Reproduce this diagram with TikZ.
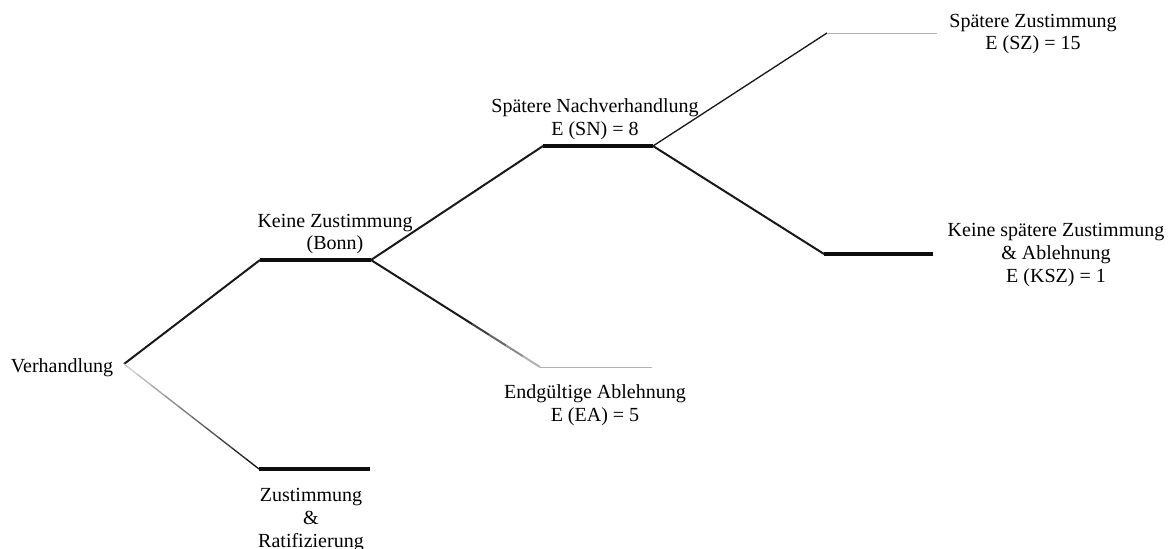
\documentclass[tikz,border=0pt]{standalone}
\usepackage{fontspec}
\setmainfont{Liberation Serif}
\usetikzlibrary{calc}

\begin{document}
\begin{tikzpicture}[
        x=0.75pt, y=-0.75pt,
        label/.style={align=center, inner sep=0pt, font=\fontsize{15}{16.9}\selectfont},
        stem/.style={line width=2.6pt, black!95},
        branch/.style={line width=1.5pt, black!90},
        twig/.style={line width=1pt, black!90},
        faint/.style={line width=0.7pt, black!30}
    ]
        \useasboundingbox (0,0) rectangle (1171,549);

        % branch points
        \coordinate (root) at (124,364);
        \coordinate (kz1) at (260,260);
        \coordinate (kz2) at (371,260);
        \coordinate (zr1) at (259,469);
        \coordinate (zr2) at (370,469);
        \coordinate (sn1) at (543,146);
        \coordinate (sn2) at (653,146);
        \coordinate (ea1) at (540,367);
        \coordinate (ea2) at (652,367);
        \coordinate (sz1) at (827,33);
        \coordinate (sz2) at (937,33);
        \coordinate (ksz1) at (824,254);
        \coordinate (ksz2) at (933,254);

        % labels
        \node[label] (verh) at (62,368) {Verhandlung};
        \node[label] (keine) at (335,234) {Keine Zustimmung\\(Bonn)};
        \node[label] (ratif) at (311,520) {Zustimmung\\\&\\Ratifizierung};
        \node[label] (nachv) at (595,119) {Spätere Nachverhandlung\\E (SN) = 8};
        \node[label] (ablehn) at (595,405) {Endgültige Ablehnung\\E (EA) = 5};
        \node[label] (spaet) at (1033,34) {Spätere Zustimmung\\E (SZ) = 15};
        \node[label] (kspaet) at (1056,255) {Keine spätere Zustimmung\\\& Ablehnung\\E (KSZ) = 1};

        % tree
        \draw[branch] (root) -- (kz1);
        \draw[stem] (kz1) -- (kz2);
        \foreach \i in {0,...,9} {
            \pgfmathsetmacro{\nxt}{(\i+1)/10}
            \pgfmathtruncatemacro{\shadeval}{20+8*\i}
            \draw[twig, black!\shadeval] ($(root)!\i/10!(zr1)$) -- ($(root)!\nxt!(zr1)$);
        }
        \draw[stem] (zr1) -- (zr2);
        \draw[branch] (kz2) -- (sn1);
        \draw[stem] (sn1) -- (sn2);
        \foreach \i in {0,...,9} {
            \pgfmathsetmacro{\nxt}{(\i+1)/10}
            \pgfmathtruncatemacro{\shadeval}{\i<6 ? 90 : 90-15*(\i-5)}
            \draw[branch, black!\shadeval] ($(kz2)!\i/10!(ea1)$) -- ($(kz2)!\nxt!(ea1)$);
        }
        \draw[faint] (ea1) -- (ea2);
        \draw[twig] (sn2) -- (sz1);
        \draw[faint] (sz1) -- (sz2);
        \draw[branch] (sn2) -- (ksz1);
        \draw[stem] (ksz1) -- (ksz2);
    \end{tikzpicture}
\end{document}
